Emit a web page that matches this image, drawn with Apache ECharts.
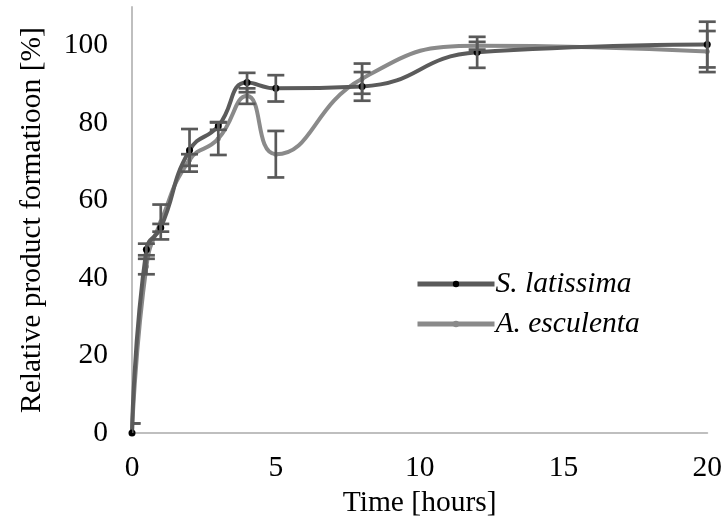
<!DOCTYPE html>
<html>
<head>
<meta charset="utf-8">
<script src="https://cdn.jsdelivr.net/npm/echarts@6/dist/echarts.min.js"></script>
<style>html,body{margin:0;padding:0;background:#fff}#c{width:725px;height:523px}</style>
</head>
<body>
<div id="c"></div>
<script>
const timeHours = [0, 0.5, 1, 2, 3, 4, 5, 8, 12, 20];
const latissima = [0, 47.4, 53, 73, 79.3, 90.5, 89, 89.5, 98.3, 100.3];
const latissimaErr = [2.5, 1.5, 1, 5.5, 1, 2.5, 3.4, 3.7, 4, 5.9];
const esculenta = [0, 43, 54.5, 70.5, 76, 87, 72, 91.5, 100, 98.5];
const esculentaErr = [2.5, 2, 4.5, 1.5, 4.2, 2, 6, 3.9, 1, 5.3];
const xTicks = [0, 5, 10, 15, 20];
const yTicks = [0, 20, 40, 60, 80, 100];

const FONT = "'Liberation Serif', 'Times New Roman', serif";
const FS = 29.5;

function pairs(ys) { return timeHours.map((x, i) => [x, ys[i]]); }
function errRows(ys, es) { return timeHours.map((x, i) => [x, ys[i] - es[i], ys[i] + es[i]]); }

function errRender(params, api) {
  const x = api.value(0);
  const lo = api.coord([x, api.value(1)]);
  const hi = api.coord([x, api.value(2)]);
  const cs = params.coordSys;
  const hw = 8.5;
  const style = { stroke: '#595959', lineWidth: 2.7 };
  return {
    type: 'group',
    clipPath: { type: 'rect', shape: { x: cs.x, y: cs.y - 20, width: cs.width + 20, height: cs.height + 20 } },
    children: [
      { type: 'line', shape: { x1: lo[0], y1: lo[1], x2: hi[0], y2: hi[1] }, style },
      { type: 'line', shape: { x1: lo[0] - hw, y1: lo[1], x2: lo[0] + hw, y2: lo[1] }, style },
      { type: 'line', shape: { x1: hi[0] - hw, y1: hi[1], x2: hi[0] + hw, y2: hi[1] }, style }
    ]
  };
}

const chart = echarts.init(document.getElementById('c'), null, { renderer: 'canvas' });
chart.setOption({
  animation: false,
  backgroundColor: '#fff',
  grid: { left: 132, right: 16, top: 7, bottom: 88.5, containLabel: false },
  xAxis: {
    type: 'value', min: xTicks[0], max: xTicks[xTicks.length - 1], interval: 5,
    name: 'Time [hours]', nameLocation: 'middle', nameGap: 52,
    nameTextStyle: { fontFamily: FONT, fontSize: FS, color: '#000' },
    axisLine: { show: true, onZero: false, lineStyle: { color: '#bfbfbf', width: 2 } },
    axisTick: { show: false },
    splitLine: { show: false },
    axisLabel: { fontFamily: FONT, fontSize: FS, color: '#000', margin: 20 }
  },
  yAxis: {
    type: 'value', min: 0, max: 110, interval: 20,
    name: 'Relative product formatioon [%]', nameLocation: 'middle', nameGap: 85, nameRotate: 90,
    nameTextStyle: { fontFamily: FONT, fontSize: FS, color: '#000' },
    axisLine: { show: true, lineStyle: { color: '#bfbfbf', width: 2 } },
    axisTick: { show: false },
    splitLine: { show: false },
    axisLabel: {
      fontFamily: FONT, fontSize: FS, color: '#000', margin: 24,
      formatter: v => (yTicks.indexOf(v) >= 0 ? String(v) : '')
    }
  },
  legend: {
    orient: 'vertical', left: 410, top: 263,
    itemWidth: 77, itemHeight: 8, itemGap: 8,
    lineStyle: { width: 5 },
    textStyle: { fontFamily: FONT, fontSize: FS, fontStyle: 'italic', color: '#000', lineHeight: 32, padding: [0, 0, 0, -4] },
    data: ['S. latissima', 'A. esculenta']
  },
  series: [
    {
      name: 'A. esculenta', type: 'line', smooth: 0.5, data: pairs(esculenta),
      symbol: 'circle', symbolSize: 5, z: 3,
      lineStyle: { color: '#8a8a8a', width: 4 },
      itemStyle: { color: '#8a8a8a' }
    },
    {
      name: 'S. latissima', type: 'line', smooth: 0.5, data: pairs(latissima),
      symbol: 'circle', symbolSize: 7, z: 4,
      lineStyle: { color: '#5b5b5b', width: 4 },
      itemStyle: { color: '#000' }
    },
    { type: 'custom', renderItem: errRender, data: errRows(latissima, latissimaErr), z: 5, silent: true },
    { type: 'custom', renderItem: errRender, data: errRows(esculenta, esculentaErr), z: 5, silent: true }
  ]
});
</script>
</body>
</html>
